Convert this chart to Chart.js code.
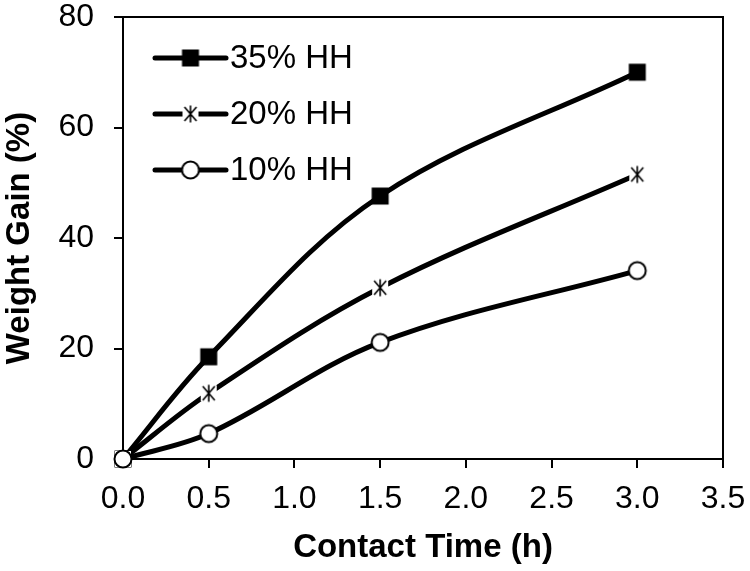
<!DOCTYPE html>
<html lang="en">
<head>
    <meta charset="UTF-8">
    <title>Weight Gain vs Contact Time</title>
    <script src="https://cdn.jsdelivr.net/npm/chart.js"></script>
    <style>
        html, body { margin: 0; padding: 0; background: #fff; }
        .chart-container { position: relative; width: 750px; height: 571px; }
    </style>
</head>
<body>
    <div class="chart-container">
        <canvas id="gainChart" width="750" height="571"></canvas>
    </div>

    <script>
        // Data
        const contactTimes = [0, 0.5, 1.5, 3.0];
        const seriesLabels = ['35% HH', '20% HH', '10% HH'];
        const gain35 = [0, 18.5, 47.6, 70.0];
        const gain20 = [0, 11.9, 31.0, 51.5];
        const gain10 = [0, 4.6, 21.1, 34.1];
        const xTicks = [0, 0.5, 1.0, 1.5, 2.0, 2.5, 3.0, 3.5];
        const yTicks = [0, 20, 40, 60, 80];

        const FONT = '"Liberation Sans", Arial, sans-serif';

        // Marker images (Excel style: filled square, asterisk, open circle)
        function makeMarker(kind) {
            const c = document.createElement('canvas');
            c.width = 22;
            c.height = 22;
            const g = c.getContext('2d');
            g.translate(11, 11);
            if (kind === 'square') {
                g.fillStyle = '#000';
                g.fillRect(-8.5, -8.5, 17, 17);
            } else if (kind === 'asterisk') {
                g.fillStyle = '#fff';
                g.fillRect(-8, -8, 16, 16);
                g.strokeStyle = '#000';
                g.lineWidth = 1.6;
                g.beginPath();
                g.moveTo(-6, -7); g.lineTo(6, 7);
                g.moveTo(6, -7); g.lineTo(-6, 7);
                g.moveTo(0, -8.5); g.lineTo(0, 8.5);
                g.stroke();
            } else {
                g.fillStyle = '#fff';
                g.strokeStyle = '#000';
                g.lineWidth = 2;
                g.beginPath();
                g.arc(0, 0, 8.5, 0, Math.PI * 2);
                g.fill();
                g.stroke();
            }
            return c;
        }
        const markers = [makeMarker('square'), makeMarker('asterisk'), makeMarker('circle')];

        function toPoints(values) {
            return values.map((v, i) => ({ x: contactTimes[i], y: v }));
        }

        // Plot frame (top and right edges)
        const framePlugin = {
            id: 'frame',
            beforeDatasetsDraw(chart) {
                const { ctx, chartArea } = chart;
                ctx.save();
                ctx.strokeStyle = '#000';
                ctx.lineWidth = 2;
                ctx.beginPath();
                ctx.moveTo(chartArea.left, chartArea.top);
                ctx.lineTo(chartArea.right, chartArea.top);
                ctx.lineTo(chartArea.right, chartArea.bottom);
                ctx.stroke();
                ctx.restore();
            }
        };

        // Legend drawn inside the plot, top left
        const insideLegend = {
            id: 'insideLegend',
            afterDraw(chart) {
                const ctx = chart.ctx;
                const x0 = 155, x1 = 226, rowTop = 58, rowGap = 56;
                ctx.save();
                chart.data.datasets.forEach((ds, i) => {
                    const y = rowTop + i * rowGap;
                    ctx.strokeStyle = '#000';
                    ctx.lineWidth = 5;
                    ctx.lineCap = 'round';
                    ctx.beginPath();
                    ctx.moveTo(x0, y);
                    ctx.lineTo(x1, y);
                    ctx.stroke();
                    const m = ds.pointStyle;
                    ctx.drawImage(m, (x0 + x1) / 2 - m.width / 2, y - m.height / 2);
                    ctx.fillStyle = '#000';
                    ctx.font = '33px ' + FONT;
                    ctx.textBaseline = 'middle';
                    ctx.textAlign = 'left';
                    ctx.fillText(ds.label, 230, y + 1);
                });
                ctx.restore();
            }
        };

        const seriesData = [gain35, gain20, gain10];
        const datasets = seriesData.map((vals, i) => ({
            label: seriesLabels[i],
            data: toPoints(vals),
            borderColor: '#000',
            borderWidth: 5,
            pointStyle: markers[i],
            pointRadius: 9,
            tension: 0.35,
            clip: false,
            order: 2 - i
        }));

        new Chart(document.getElementById('gainChart'), {
            type: 'line',
            data: { datasets },
            options: {
                responsive: false,
                animation: false,
                devicePixelRatio: 1,
                layout: { padding: { top: 17, right: 27, left: 0, bottom: 0 } },
                plugins: {
                    legend: { display: false },
                    tooltip: { enabled: false }
                },
                scales: {
                    x: {
                        type: 'linear',
                        min: 0,
                        max: 3.5,
                        afterFit: s => {
                            s.height = 112;
                            s.paddingLeft = 0;
                            s.paddingRight = 0;
                        },
                        afterBuildTicks: s => { s.ticks = xTicks.map(v => ({ value: v })); },
                        ticks: {
                            color: '#000',
                            font: { family: FONT, size: 32 },
                            padding: 12,
                            maxRotation: 0,
                            callback: v => v.toFixed(1)
                        },
                        grid: {
                            drawOnChartArea: false,
                            tickLength: 9,
                            lineWidth: 2,
                            color: ctx => (ctx.tick && ctx.tick.value === 0) ? 'rgba(0,0,0,0)' : '#000'
                        },
                        border: { color: '#000', width: 2 },
                        title: {
                            display: true,
                            text: 'Contact Time (h)',
                            color: '#000',
                            font: { family: FONT, size: 33, weight: 'bold' },
                            padding: { top: 0, bottom: 3 }
                        }
                    },
                    y: {
                        min: 0,
                        max: 80,
                        afterFit: s => {
                            s.width = 123;
                            s.paddingTop = 0;
                            s.paddingBottom = 0;
                        },
                        afterBuildTicks: s => { s.ticks = yTicks.map(v => ({ value: v })); },
                        ticks: {
                            color: '#000',
                            font: { family: FONT, size: 32 },
                            padding: 20
                        },
                        grid: {
                            drawOnChartArea: false,
                            tickLength: 9,
                            lineWidth: 2,
                            color: '#000'
                        },
                        border: { color: '#000', width: 2 },
                        title: {
                            display: true,
                            text: 'Weight Gain (%)',
                            color: '#000',
                            font: { family: FONT, size: 33, weight: 'bold' },
                            padding: { top: 0, bottom: 0 }
                        }
                    }
                }
            },
            plugins: [framePlugin, insideLegend]
        });
    </script>
</body>
</html>
